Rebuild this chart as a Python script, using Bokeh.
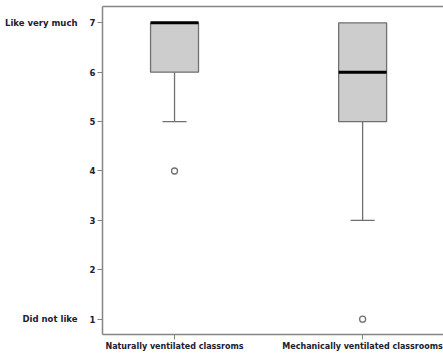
from bokeh.plotting import figure
from bokeh.models import FixedTicker, LinearAxis, Range1d, ColumnDataSource
from bokeh.embed import file_html
from bokeh.resources import INLINE

categories = ["Naturally ventilated classroms", "Mechanically ventilated classrooms"]
q1 = [6, 5]
median = [7, 6]
q3 = [7, 7]
lower_whisker = [5, 3]
upper_whisker = [7, 7]
outliers_cat = [1, 2]
outliers_val = [4, 1]
y_ticks = [1, 2, 3, 4, 5, 6, 7]
scale_labels = {7: "Like very much", 1: "Did not like"}

pos = [i + 1 for i in range(len(categories))]
box_w = 0.255
cap_w = 0.128

p = figure(width=443, height=353, output_backend="svg", toolbar_location=None,
           x_range=Range1d(0.617, 2.43), y_range=Range1d(0.69, 7.33),
           min_border_left=102, min_border_right=0, min_border_top=6, min_border_bottom=0)
p.outline_line_color = None
p.xgrid.visible = False
p.ygrid.visible = False
p.background_fill_color = "white"
p.border_fill_color = "white"

axis_col = "#858585"
text_col = "#202030"
font = "DejaVu Sans"

src = ColumnDataSource(dict(x=pos, q1=q1, q3=q3, med=median, lw=lower_whisker, uw=upper_whisker,
                            cl=[x - cap_w / 2 for x in pos], cr=[x + cap_w / 2 for x in pos],
                            bl=[x - box_w / 2 for x in pos], br=[x + box_w / 2 for x in pos]))
p.segment(x0="x", y0="q1", x1="x", y1="lw", source=src, line_color="#707070", line_width=1.3)
p.segment(x0="x", y0="q3", x1="x", y1="uw", source=src, line_color="#707070", line_width=1.3)
p.segment(x0="cl", y0="lw", x1="cr", y1="lw", source=src, line_color="#707070", line_width=1.3)
p.vbar(x="x", width=box_w, bottom="q1", top="q3", source=src, fill_color="#cdcdcd",
       line_color="#707070", line_width=1.3)
p.segment(x0="bl", y0="med", x1="br", y1="med", source=src, line_color="black", line_width=3)
p.scatter(outliers_cat, outliers_val, size=6, marker="circle", fill_color="white",
          line_color="#707070", line_width=1.3)

p.xaxis.ticker = FixedTicker(ticks=pos)
p.xaxis.major_label_overrides = {x: c for x, c in zip(pos, categories)}
p.yaxis.ticker = FixedTicker(ticks=y_ticks)
for ax in (p.xaxis[0], p.yaxis[0]):
    ax.axis_line_color = axis_col
    ax.axis_line_width = 1.5
    ax.major_tick_line_color = axis_col
    ax.major_tick_line_width = 1
    ax.major_tick_out = 5
    ax.major_tick_in = 0
    ax.minor_tick_line_color = None
    ax.major_label_text_font = font
    ax.major_label_text_font_style = "bold"
    ax.major_label_text_color = text_col
p.xaxis.major_label_text_font_size = "8px"
p.xaxis.major_label_standoff = 2
p.yaxis.major_label_text_font_size = "8.5px"
p.yaxis.major_label_standoff = 2

# scale-end descriptions, as a second left axis
desc = LinearAxis(ticker=FixedTicker(ticks=list(scale_labels.keys())),
                  major_label_overrides=scale_labels,
                  axis_line_color=None, major_tick_line_color=None, minor_tick_line_color=None,
                  major_label_text_font=font, major_label_text_font_style="bold",
                  major_label_text_font_size="8.5px", major_label_text_color=text_col,
                  major_label_standoff=3)
p.add_layout(desc, "left")

top = LinearAxis(ticker=FixedTicker(ticks=[]), axis_line_color=axis_col, axis_line_width=1.5,
                 major_tick_line_color=None, minor_tick_line_color=None,
                 major_label_text_font_size="0px")
p.add_layout(top, "above")

open("out.html", "w").write(file_html(p, INLINE))
